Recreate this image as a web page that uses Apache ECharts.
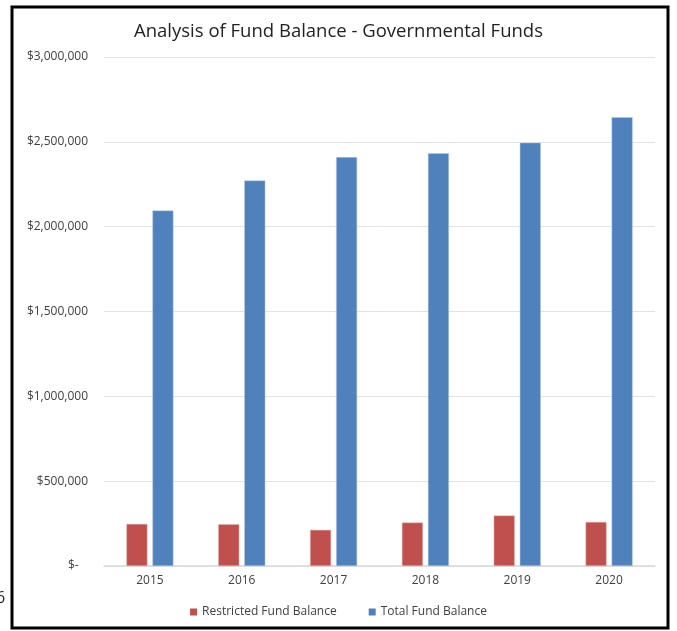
<!DOCTYPE html>
<html><head><meta charset="utf-8">
<script src="https://cdn.jsdelivr.net/npm/echarts@6/dist/echarts.min.js"></script>
<style>html,body{margin:0;padding:0;background:#fff}#c{width:677px;height:631px}</style>
</head><body><div id="c"></div>
<script>
const categories = ['2015','2016','2017','2018','2019','2020'];
const restricted = [248000, 246000, 213000, 256000, 297000, 260000];
const total = [2095000, 2272000, 2410000, 2432000, 2495000, 2645000];
const seriesNames = ['Restricted Fund Balance','Total Fund Balance'];
const titleText = 'Analysis of Fund Balance - Governmental Funds';

function fmt(v){
  if (v === 0) return '$-   ';
  return '$' + v.toLocaleString('en-US');
}
const chart = echarts.init(document.getElementById('c'));
chart.setOption({
  animation:false,
  textStyle:{fontFamily:'Open Sans'},
  title:{text:titleText,left:'center',top:17,textStyle:{fontSize:18.5,fontWeight:'normal',color:'#222',fontFamily:'Open Sans'}},
  legend:{top:601,left:'center',itemWidth:7,itemHeight:7,itemGap:32,icon:'rect',
    itemStyle:{borderWidth:0},
    textStyle:{fontSize:12,color:'#404040'},data:seriesNames},
  grid:{left:104,right:22,top:57,bottom:65},
  xAxis:{type:'category',data:categories,
    axisLine:{lineStyle:{color:'#d9d9d9',width:1.5}},axisTick:{show:false},
    axisLabel:{fontSize:12,color:'#404040',margin:9}},
  yAxis:{type:'value',min:0,max:3000000,interval:500000,
    axisLine:{show:false},axisTick:{show:false},
    splitLine:{lineStyle:{color:'#e3e3e3',width:1}},
    axisLabel:{fontSize:12,color:'#404040',margin:16,formatter:fmt}},
  series:[
    {name:seriesNames[0],type:'bar',data:restricted,barWidth:21,barGap:'24%',
     itemStyle:{color:'#c0504d',borderColor:'#e8b4b3',borderWidth:0.5}},
    {name:seriesNames[1],type:'bar',data:total,barWidth:21,
     itemStyle:{color:'#4f81bd',borderColor:'#b7cbe4',borderWidth:0.5}}
  ],
  graphic:[
    {type:'rect',shape:{x:12,y:7,width:656,height:621},style:{fill:'none',stroke:'#000',lineWidth:3}},
    {type:'text',left:-4,top:590,style:{text:'6',fontSize:16,fill:'#222',fontFamily:'Open Sans'}}
  ]
});
</script></body></html>
